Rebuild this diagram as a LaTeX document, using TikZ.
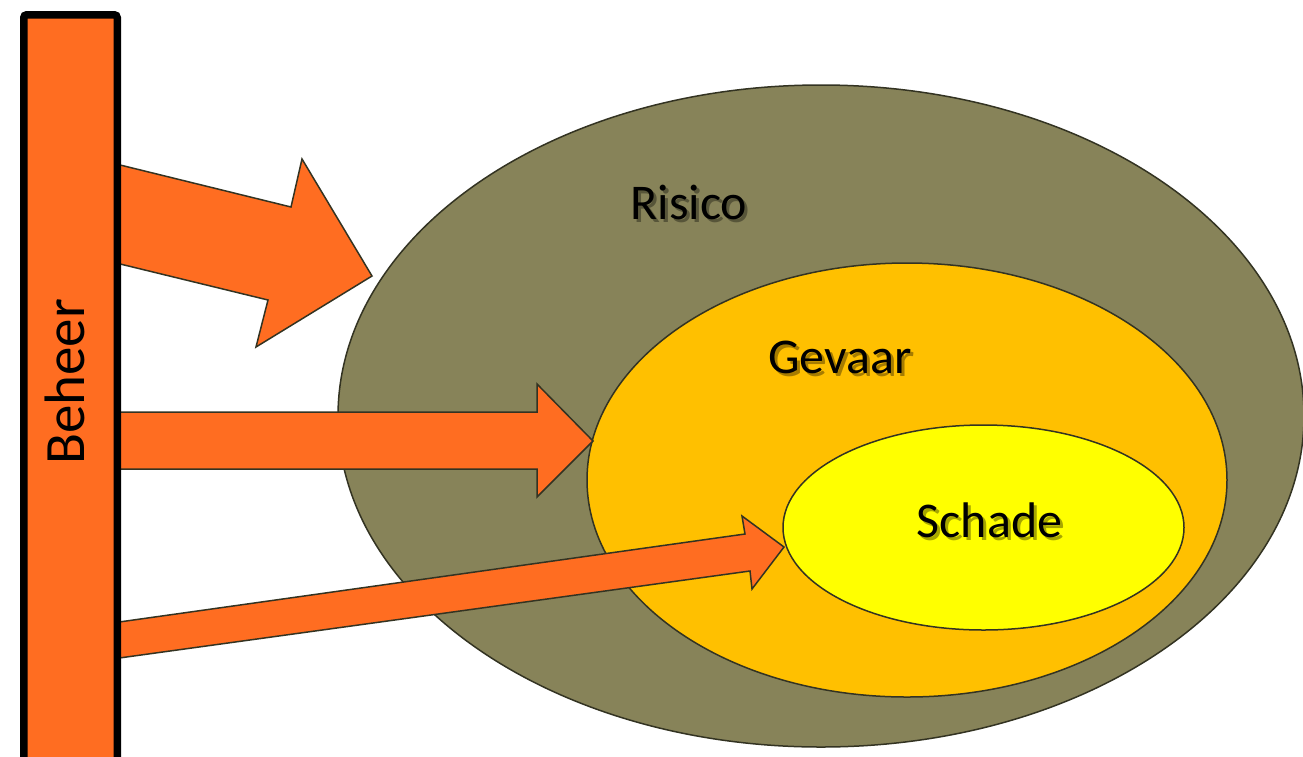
\documentclass[tikz,border=0pt]{standalone}
\usepackage{fontspec}
\setmainfont{Carlito}
\usetikzlibrary{shapes.geometric}
\definecolor{barorange}{HTML}{FF6D21}
\definecolor{olive}{HTML}{878359}
\definecolor{gevaarc}{HTML}{FFC000}
\definecolor{schadec}{HTML}{FFFF00}
\definecolor{edge}{HTML}{333322}
\tikzset{
  zone/.style={ellipse, draw=edge, line width=1.5pt, inner sep=0pt},
  blockarrow/.style={fill=barorange, draw=edge, line width=1.5pt, line join=miter},
  lbl/.style={font=\fontsize{50}{60}\selectfont, text=black, anchor=base, inner sep=0pt},
  lblshadow/.style={lbl, text=black, text opacity=0.35, xshift=3pt, yshift=-3pt},
}
\begin{document}
\begin{tikzpicture}[x=1pt,y=-1pt]
\useasboundingbox (0,0) rectangle (1303,756);
% zones
\node[zone, fill=olive, minimum width=966, minimum height=662] (risico) at (821,416) {};
\node[zone, fill=gevaarc, minimum width=640, minimum height=434] (gevaar) at (907,480) {};
\node[zone, fill=schadec, minimum width=401, minimum height=205] (schade) at (983.5,527.5) {};
% label shadows
\node[lblshadow] (risicoS) at (689,219) {Risico};
\node[lblshadow] (gevaarS) at (840,373) {Gevaar};
\node[lblshadow] (schadeS) at (989.5,537) {Schade};
% labels
\node[lbl] (risicoL) at (689,219) {Risico};
\node[lbl] (gevaarL) at (840,373) {Gevaar};
\node[lbl] (schadeL) at (989.5,537) {Schade};
% arrows
\draw[blockarrow] (112,163) -- (291,207) -- (302,159) -- (372,276) -- (256,347) -- (268,300) -- (112,262) -- cycle;
\draw[blockarrow] (112,412) -- (537,412) -- (537,384) -- (593,441) -- (537,497) -- (537,469) -- (112,469) -- cycle;
\draw[blockarrow] (112,623) -- (745,534) -- (742,516) -- (784,547) -- (752,589) -- (750,571) -- (112,659) -- cycle;
% bar
\node[draw=black, fill=barorange, line width=7.5pt, rounded corners=3pt, inner sep=0pt,
      minimum width=93.5, minimum height=760, anchor=north west] (beheer) at (20,11) {};
\node[font=\fontsize{57}{68}\selectfont, rotate=90, anchor=base, inner sep=0pt] (beheerL) at (84,382) {Beheer};
\end{tikzpicture}
\end{document}
